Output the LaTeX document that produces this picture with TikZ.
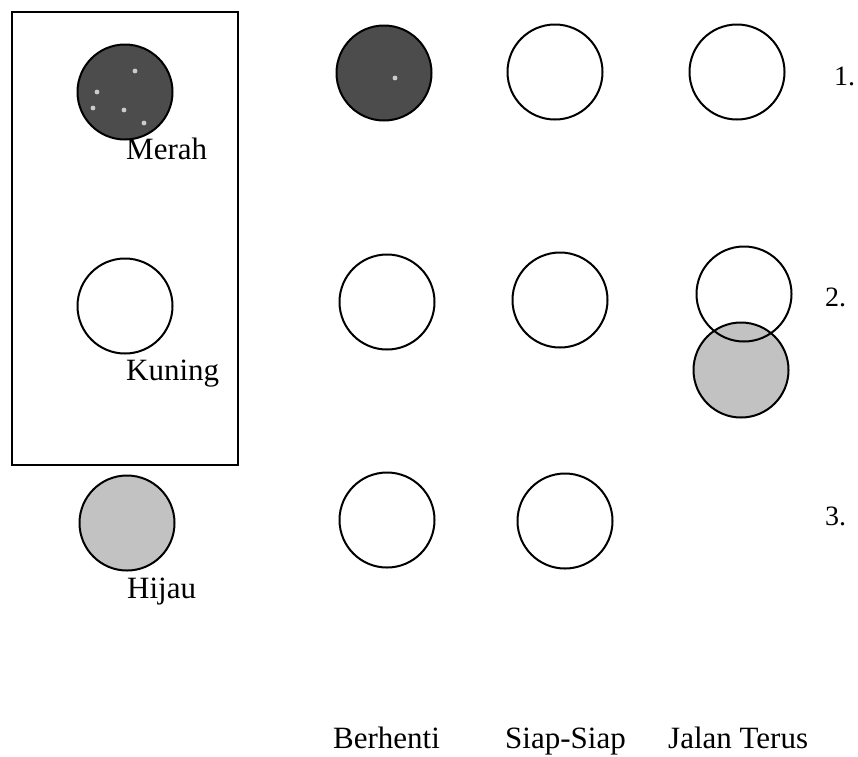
\documentclass[tikz,border=0pt]{standalone}
\usepackage{fontspec}
\setmainfont{Liberation Serif}
\usepackage{tikz}
\usetikzlibrary{calc}

\tikzset{
  lamp/.style={circle,draw=black,line width=2pt,minimum size=95pt,inner sep=0pt},
  merahlamp/.style={lamp,fill=black!70},
  hijaulamp/.style={lamp,fill=black!24},
  lbl/.style={anchor=base west,inner sep=0pt,font=\fontsize{31}{36}\selectfont},
  nomor/.style={anchor=base west,inner sep=0pt,font=\fontsize{28}{32}\selectfont}
}

\begin{document}
\begin{tikzpicture}[x=1pt,y=-1pt]
  % Boundary
  \path[use as bounding box] (0,0) rectangle (858,756);
  % Traffic light box
  \draw[line width=2pt] (12,12) rectangle (238,465);
  % Lamps with their colour names
  \node[merahlamp] (merah) at (125,92) {};
  \foreach \sx/\sy in {10/-21,-28/0,-32/16,-1/18,19/31}
    \fill[white!80!black] ($(merah)+(\sx,\sy)$) circle (2.4);
  \node[lamp] (kuning) at (125,306) {};
  \node[hijaulamp] (hijau) at (127,523) {};
  \node[lbl] (tmerah) at (126,159) {Merah};
  \node[lbl] (tkuning) at (126,380) {Kuning};
  \node[lbl] (thijau) at (127,598) {Hijau};
  % Row 1
  \node[merahlamp] (a1) at (384,73) {};
  \fill[white!80!black] ($(a1)+(11,5)$) circle (2.4);
  \node[lamp] (b1) at (555,72) {};
  \node[lamp] (c1) at (737,72) {};
  \node[nomor] (n1) at (834,85) {1.};
  % Row 2
  \node[lamp] (a2) at (387,302) {};
  \node[lamp] (b2) at (560,300) {};
  \node[hijaulamp] (d2) at (741,370) {};
  \node[lamp] (c2) at (744,294) {};
  \node[nomor] (n2) at (825,306) {2.};
  % Row 3
  \node[lamp] (a3) at (387,520) {};
  \node[lamp] (b3) at (565,521) {};
  \node[nomor] (n3) at (825,525) {3.};
  % Column names
  \node[lbl] (berhenti) at (333,748) {Berhenti};
  \node[lbl] (siap) at (505,748) {Siap-Siap};
  \node[lbl] (jalan) at (668,748) {Jalan Terus};
\end{tikzpicture}
\end{document}
